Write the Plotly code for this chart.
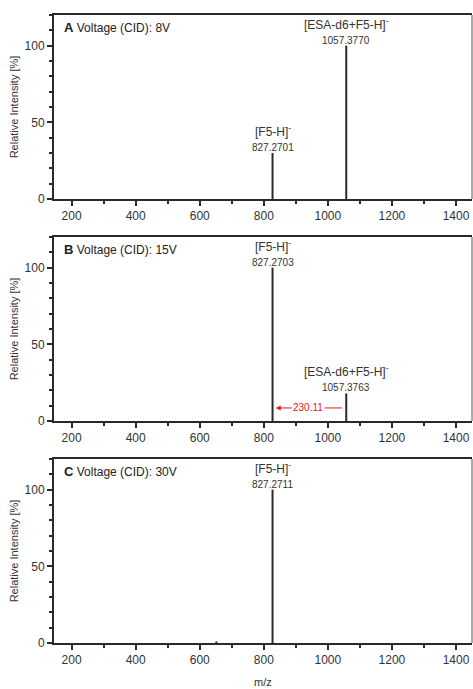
import plotly.graph_objects as go

# Centroid peaks (m/z, relative intensity %) for each CID voltage
mz_a = [827.2701, 1057.3770]
int_a = [30, 100]
mz_b = [827.2703, 1057.3763]
int_b = [100, 18]
mz_c = [652.0, 827.2711]
int_c = [1, 100]

names_a = ["[F5-H]<sup>-</sup>", "[ESA-d6+F5-H]<sup>-</sup>"]
names_b = ["[F5-H]<sup>-</sup>", "[ESA-d6+F5-H]<sup>-</sup>"]
names_c = [None, "[F5-H]<sup>-</sup>"]

panel_letters = ["A", "B", "C"]
voltages = ["8V", "15V", "30V"]

neutral_loss = 230.11
x_ticks = [200, 400, 600, 800, 1000, 1200, 1400]
y_ticks = [0, 50, 100]

FONT = "Liberation Sans, Arial, sans-serif"
INK = "#2a2a2a"

panels = [(mz_a, int_a, names_a), (mz_b, int_b, names_b), (mz_c, int_c, names_c)]
domains = [[0.707, 1.0], [0.3535, 0.6465], [0.0, 0.293]]

fig = go.Figure()

for i, (mz, inten, names) in enumerate(panels):
    n = i + 1
    xa = "x" if n == 1 else f"x{n}"
    ya = "y" if n == 1 else f"y{n}"
    xs, ys = [], []
    for m, v in zip(mz, inten):
        xs += [m, m, None]
        ys += [0, v, None]
    fig.add_trace(go.Scatter(x=xs, y=ys, mode="lines", xaxis=xa, yaxis=ya,
                             line=dict(color=INK, width=2), showlegend=False,
                             hoverinfo="skip"))

    axis_x = dict(domain=[0, 1], range=[145, 1450], anchor=ya,
                  tickvals=x_ticks, ticks="outside", ticklen=5, tickwidth=1.5,
                  tickcolor=INK, showline=True, linewidth=2, linecolor=INK,
                  mirror=True, showgrid=False, zeroline=False,
                  tickfont=dict(family=FONT, size=12, color="#333"),
                  minor=dict(dtick=100, tick0=0, ticks="outside", ticklen=3,
                             tickcolor=INK, showgrid=False))
    axis_y = dict(domain=domains[i], range=[0, 120], anchor=xa,
                  tickvals=y_ticks, ticks="outside", ticklen=5, tickwidth=1.5,
                  tickcolor=INK, showline=True, linewidth=2, linecolor=INK,
                  showgrid=False, zeroline=False,
                  tickfont=dict(family=FONT, size=12, color="#333"),
                  title=dict(text="Relative Intensity [%]", standoff=4,
                             font=dict(family=FONT, size=11, color="#333")),
                  minor=dict(dtick=10, ticks="outside", ticklen=3,
                             tickcolor=INK, showgrid=False))
    key_x = "xaxis" if n == 1 else f"xaxis{n}"
    key_y = "yaxis" if n == 1 else f"yaxis{n}"
    fig.update_layout({key_x: axis_x, key_y: axis_y})

    # thin right-hand frame edge
    fig.add_shape(type="line", xref=f"{xa} domain", yref=f"{ya} domain",
                  x0=1, x1=1, y0=0, y1=1, line=dict(color="#555", width=1))

    # panel heading
    fig.add_annotation(xref=f"{xa} domain", yref=f"{ya} domain", x=0.02, y=0.985,
                       xanchor="left", yanchor="top", showarrow=False,
                       text=f"<b style='font-size:13px'>{panel_letters[i]}</b> Voltage (CID): {voltages[i]}",
                       font=dict(family=FONT, size=12, color="#222"))

    # peak labels
    for m, v, nm in zip(mz, inten, names):
        if nm is None:
            continue
        fig.add_annotation(xref=xa, yref=ya, x=m, y=v, yshift=-2,
                           xanchor="center", yanchor="bottom", showarrow=False,
                           text=f"{m:.4f}",
                           font=dict(family=FONT, size=10, color="#333"))
        fig.add_annotation(xref=xa, yref=ya, x=m, y=v, yshift=12,
                           xanchor="center", yanchor="bottom", showarrow=False,
                           text=nm, font=dict(family=FONT, size=12, color="#333"))

# neutral-loss marker between the two peaks in panel B
loss_y = 8.5
fig.add_annotation(xref="x2", yref="y2", x=mz_b[0] + 10, y=loss_y,
                   axref="x2", ayref="y2", ax=mz_b[0] + 112, ay=loss_y,
                   text=f"{neutral_loss:.2f}", showarrow=True, arrowhead=2,
                   arrowsize=1, arrowwidth=1, arrowcolor="#e8161b",
                   font=dict(family=FONT, size=10, color="#e8161b"))
fig.add_shape(type="line", xref="x2", yref="y2", x0=mz_b[0] + 163,
              x1=mz_b[1] - 13, y0=loss_y, y1=loss_y,
              line=dict(color="#e8161b", width=1))

# shared x title under the bottom panel
fig.add_annotation(xref="x3 domain", yref="y3 domain", x=0.5, y=0, yshift=-31,
                   xanchor="center", yanchor="top", showarrow=False, text="m/z",
                   font=dict(family=FONT, size=11, color="#333"))

fig.update_layout(width=473, height=689, margin=dict(l=54, r=1, t=15, b=46),
                  paper_bgcolor="white", plot_bgcolor="white",
                  font=dict(family=FONT, color="#333"))

fig.write_html("out.html")
